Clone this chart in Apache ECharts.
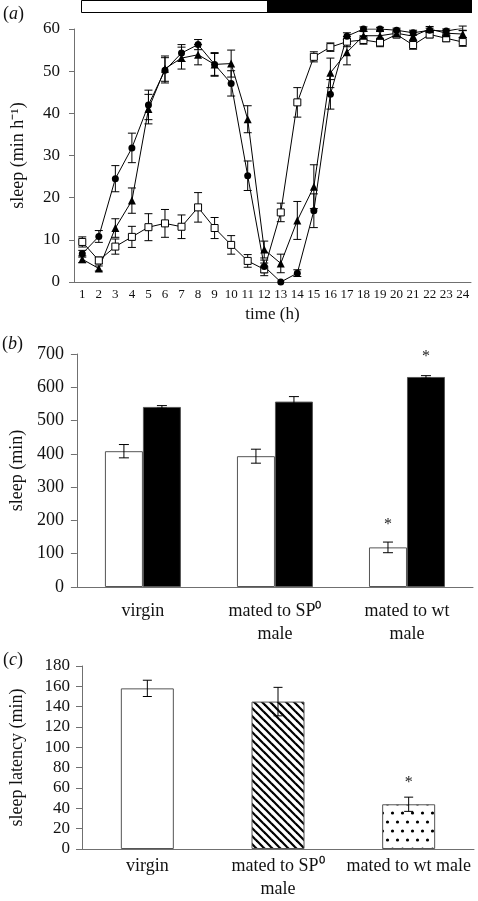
<!DOCTYPE html>
<html><head><meta charset="utf-8">
<script src="https://cdn.jsdelivr.net/npm/echarts/dist/echarts.min.js"></script>
<style>html,body{margin:0;padding:0;background:#fff}#c{width:478px;height:901px}</style>
</head><body><div id="c"></div><script>
// ---------- data ----------
const hours = ['1','2','3','4','5','6','7','8','9','10','11','12','13','14','15','16','17','18','19','20','21','22','23','24'];
const sqMean = [9.5,5.1,8.4,10.7,13.0,13.9,13.1,17.7,12.8,8.8,5.0,3.0,16.5,42.6,53.4,55.7,57.0,57.4,56.8,58.7,56.2,58.7,57.8,56.9];
const sqErr  = [1.2,0.8,1.8,2.5,3.2,3.3,2.8,3.5,2.5,2.2,1.5,1.5,2.2,3.5,1.2,1.0,1.2,1.0,1.0,0.8,1.0,0.8,0.8,1.0];
const ciMean = [6.7,10.8,24.5,31.8,42.0,50.2,54.3,56.3,51.6,47.1,25.2,3.7,0.0,2.1,16.9,44.5,58.3,60.0,60.0,59.7,59.1,59.7,59.5,60.2];
const ciErr  = [0.8,1.4,3.1,3.5,3.5,3.0,2.0,1.2,2.6,3.0,3.5,1.5,0.0,0.8,4.0,3.5,0.8,0.5,0.4,0.5,0.6,0.5,0.5,0.5];
const trMean = [5.4,3.2,12.8,19.3,41.0,50.6,53.1,53.9,51.6,51.8,38.6,7.7,4.4,14.6,22.6,49.6,54.5,58.4,58.4,59.0,58.3,60.0,59.0,58.8];
const trErr  = [0.8,0.6,2.2,3.0,3.5,3.0,2.6,2.4,2.8,3.2,3.2,2.0,2.2,4.5,5.2,3.5,3.0,1.0,1.0,0.8,1.0,0.6,0.6,0.8];

const catsB = ['virgin','mated to SP\u2070\nmale','mated to wt\nmale'];
const dayMean = [408, 393, 119];
const dayErr = [20, 21, 16];
const daySig = [0, 0, 1];
const nightMean = [541, 557, 631];
const nightErr = [4, 15, 4];
const nightSig = [0, 0, 1];

const catsC = ['virgin','mated to SP\u2070\nmale','mated to wt male'];
const latMean = [158, 145, 44];
const latErr = [8, 14, 7];
const latSig = [0, 0, 1];

// ---------- styles ----------
const FONT = 'Liberation Serif';
const AX = '#707070';
const TXT = '#111';

function makeHatch(){
  const c = document.createElement('canvas'); c.width = 8; c.height = 8;
  const g = c.getContext('2d');
  g.fillStyle = '#fff'; g.fillRect(0,0,8,8);
  g.strokeStyle = '#000'; g.lineWidth = 2.2;
  g.beginPath(); g.moveTo(-2,-2); g.lineTo(10,10); g.stroke();
  g.beginPath(); g.moveTo(-2,6); g.lineTo(2,10); g.stroke();
  g.beginPath(); g.moveTo(6,-2); g.lineTo(10,2); g.stroke();
  return c;
}
function makeDots(){
  const c = document.createElement('canvas'); c.width = 10; c.height = 18;
  const g = c.getContext('2d');
  g.fillStyle = '#fff'; g.fillRect(0,0,10,18);
  g.fillStyle = '#000';
  g.beginPath(); g.arc(2.5,3,1.6,0,Math.PI*2); g.fill();
  g.beginPath(); g.arc(7.5,12,1.6,0,Math.PI*2); g.fill();
  return c;
}
const fillsC = ['#fff', {image: makeHatch(), repeat:'repeat'}, {image: makeDots(), repeat:'repeat'}];

function errRender(offset, cap, starGap){
  return function(params, api){
    const i = api.value(0), m = api.value(1), e = api.value(2), s = api.value(3);
    const t = api.coord([i, m + e]), b = api.coord([i, m - e]);
    const x = t[0] + offset;
    const st = {stroke:'#000', lineWidth:1};
    const ch = [];
    if (e > 0) {
      ch.push({type:'line', shape:{x1:x, y1:t[1], x2:x, y2:b[1]}, style:st});
      ch.push({type:'line', shape:{x1:x-cap, y1:t[1], x2:x+cap, y2:t[1]}, style:st});
      ch.push({type:'line', shape:{x1:x-cap, y1:b[1], x2:x+cap, y2:b[1]}, style:st});
    }
    if (s) ch.push({type:'text', style:{text:'*', x:x, y:t[1]-starGap, textAlign:'center', textVerticalAlign:'middle', font:'16px "Liberation Serif"', fill:'#222'}});
    return {type:'group', children:ch};
  };
}
function errData(mean, err, sig){ return mean.map((m,i)=>[i, m, err[i], sig ? sig[i] : 0]); }

const axisLine = {lineStyle:{color:AX, width:1}};
const axisTick = (len)=>({length:len, lineStyle:{color:AX, width:1}});
const lbl = (size, margin)=>({color:TXT, fontFamily:FONT, fontSize:size, margin:margin, interval:0});
const nameStyle = (size)=>({color:TXT, fontFamily:FONT, fontSize:size});

const B = 38; // bar width panel b

const option = {
  animation:false,
  backgroundColor:'#fff',
  textStyle:{fontFamily:FONT},
  grid:[
    {left:74, top:29, width:397, height:253},
    {left:74, top:354, width:399, height:233},
    {left:80, top:666, width:394, height:185}
  ],
  xAxis:[
    {gridIndex:0, type:'category', data:hours, boundaryGap:true, axisLine, axisTick:axisTick(4), axisLabel:lbl(13,6),
     name:'time (h)', nameLocation:'middle', nameGap:24, nameTextStyle:nameStyle(17)},
    {gridIndex:1, type:'category', data:catsB, axisLine, axisTick:axisTick(6), axisLabel:Object.assign(lbl(18,13),{lineHeight:23})},
    {gridIndex:2, type:'category', data:catsC, axisLine, axisTick:axisTick(6), axisLabel:Object.assign(lbl(18,6),{lineHeight:23})}
  ],
  yAxis:[
    {gridIndex:0, type:'value', min:0, max:60, interval:10, axisLine:Object.assign({show:true},axisLine), axisTick:Object.assign({show:true},axisTick(5)), splitLine:{show:false}, axisLabel:lbl(17,14),
     name:'sleep (min h\u207B\u00B9)', nameLocation:'middle', nameGap:47, nameTextStyle:nameStyle(18)},
    {gridIndex:1, type:'value', min:0, max:700, interval:100, axisLine:Object.assign({show:true},axisLine), axisTick:Object.assign({show:true},axisTick(6)), splitLine:{show:false}, axisLabel:lbl(18,13),
     name:'sleep (min)', nameLocation:'middle', nameGap:49, nameTextStyle:nameStyle(18)},
    {gridIndex:2, type:'value', min:0, max:180, interval:20, axisLine:Object.assign({show:true},axisLine), axisTick:Object.assign({show:true},axisTick(6)), splitLine:{show:false}, axisLabel:lbl(17,12),
     name:'sleep latency (min)', nameLocation:'middle', nameGap:56, nameTextStyle:nameStyle(18)}
  ],
  graphic:[
    {type:'rect', shape:{x:81.5, y:0.5, width:390, height:12}, style:{fill:'#fff', stroke:'#000', lineWidth:1}},
    {type:'rect', shape:{x:267, y:0, width:205, height:13}, style:{fill:'#000'}},
    {type:'text', left:3, top:5, style:{rich:{n:{fontFamily:FONT, fontSize:18, fill:TXT}, i:{fontFamily:FONT, fontSize:18, fontStyle:'italic', fill:TXT}}, text:'{n|(}{i|a}{n|)}'}},
    {type:'text', left:2, top:335, style:{rich:{n:{fontFamily:FONT, fontSize:18, fill:TXT}, i:{fontFamily:FONT, fontSize:18, fontStyle:'italic', fill:TXT}}, text:'{n|(}{i|b}{n|)}'}},
    {type:'text', left:3, top:651, style:{rich:{n:{fontFamily:FONT, fontSize:18, fill:TXT}, i:{fontFamily:FONT, fontSize:18, fontStyle:'italic', fill:TXT}}, text:'{n|(}{i|c}{n|)}'}}
  ],
  series:[
    // panel a error bars
    {type:'custom', xAxisIndex:0, yAxisIndex:0, z:1, renderItem:errRender(0,4,0), data:errData(sqMean, sqErr), encode:{x:0,y:1}},
    {type:'custom', xAxisIndex:0, yAxisIndex:0, z:1, renderItem:errRender(0,4,0), data:errData(ciMean, ciErr), encode:{x:0,y:1}},
    {type:'custom', xAxisIndex:0, yAxisIndex:0, z:1, renderItem:errRender(0,4,0), data:errData(trMean, trErr), encode:{x:0,y:1}},
    // panel a lines
    {type:'line', xAxisIndex:0, yAxisIndex:0, z:3, data:sqMean, symbol:'rect', symbolSize:7, showAllSymbol:true,
     lineStyle:{color:'#000', width:1}, itemStyle:{color:'#fff', borderColor:'#000', borderWidth:1}},
    {type:'line', xAxisIndex:0, yAxisIndex:0, z:3, data:ciMean, symbol:'circle', symbolSize:7, showAllSymbol:true,
     lineStyle:{color:'#000', width:1}, itemStyle:{color:'#000', borderColor:'#000', borderWidth:0}},
    {type:'line', xAxisIndex:0, yAxisIndex:0, z:3, data:trMean, symbol:'triangle', symbolSize:8, showAllSymbol:true,
     lineStyle:{color:'#000', width:1}, itemStyle:{color:'#000', borderColor:'#000', borderWidth:0}},
    // panel b bars
    {type:'bar', xAxisIndex:1, yAxisIndex:1, data:dayMean, barWidth:B, barGap:'0%',
     itemStyle:{color:'#fff', borderColor:'#555', borderWidth:1}},
    {type:'bar', xAxisIndex:1, yAxisIndex:1, data:nightMean, barWidth:B, barGap:'0%',
     itemStyle:{color:'#000', borderColor:'#555', borderWidth:1}},
    {type:'custom', xAxisIndex:1, yAxisIndex:1, z:5, renderItem:errRender(-B/2,5,17), data:errData(dayMean, dayErr, daySig), encode:{x:0,y:1}},
    {type:'custom', xAxisIndex:1, yAxisIndex:1, z:5, renderItem:errRender(B/2,5,19), data:errData(nightMean, nightErr, nightSig), encode:{x:0,y:1}},
    // panel c bars
    {type:'bar', xAxisIndex:2, yAxisIndex:2, barWidth:53,
     data:latMean.map((v,i)=>({value:v, itemStyle:{color:fillsC[i]}})),
     itemStyle:{borderColor:'#555', borderWidth:1}},
    {type:'custom', xAxisIndex:2, yAxisIndex:2, z:5, renderItem:errRender(0,4.5,14), data:errData(latMean, latErr, latSig), encode:{x:0,y:1}}
  ]
};
const chart = echarts.init(document.getElementById('c'), null, {renderer:'canvas'});
chart.setOption(option);
</script></body></html>
